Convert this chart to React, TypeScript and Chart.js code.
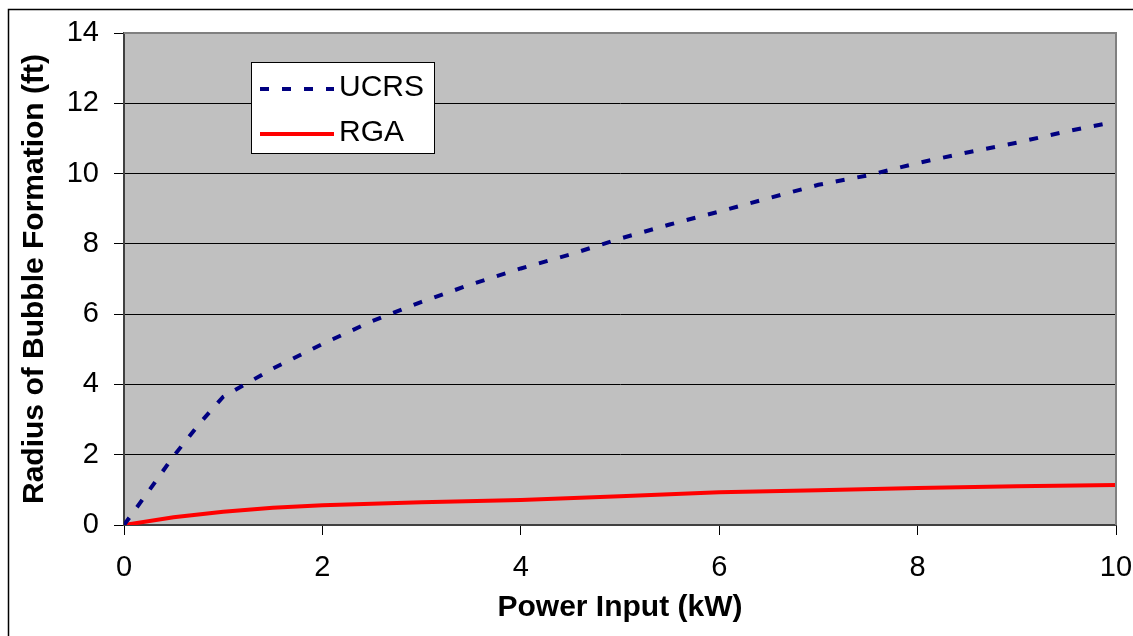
import { useEffect, useRef } from "react";
import { Chart, registerables } from "chart.js";

Chart.register(...registerables);

const FONT = "'Liberation Sans', Arial, Helvetica, sans-serif";

// UCRS series
const ucrsX = [0, 0.25, 0.5, 0.75, 1, 1.5, 2, 2.5, 3, 3.5, 4, 4.5, 5, 5.5, 6, 6.5, 7, 7.5, 8, 8.5, 9, 9.5, 10];
const ucrsY = [0, 0.97, 1.96, 2.85, 3.65, 4.45, 5.15, 5.8, 6.35, 6.85, 7.3, 7.7, 8.15, 8.55, 8.92, 9.3, 9.68, 9.95, 10.3, 10.6, 10.88, 11.2, 11.48];

// RGA series
const rgaX = [0, 0.5, 1, 1.5, 2, 3, 4, 5, 6, 7, 8, 9, 10];
const rgaY = [0, 0.22, 0.38, 0.49, 0.56, 0.65, 0.71, 0.82, 0.93, 0.99, 1.05, 1.1, 1.14];

// Tick labels
const xTicks = [0, 2, 4, 6, 8, 10];
const yTicks = [0, 2, 4, 6, 8, 10, 12, 14];

const seriesNames = ["UCRS", "RGA"];
const xTitle = "Power Input (kW)";
const yTitle = "Radius of Bubble Formation (ft)";

export default function App() {
  const ref = useRef<HTMLCanvasElement>(null);

  useEffect(() => {
    if (!ref.current) return;

    const bgPlugin = {
      id: "plotBg",
      beforeDraw(chart: any) {
        const { ctx, chartArea: a } = chart;
        ctx.save();
        ctx.fillStyle = "#fff";
        ctx.fillRect(0, 0, chart.width, chart.height);
        ctx.fillStyle = "#C0C0C0";
        ctx.fillRect(a.left, a.top, a.right - a.left, a.bottom - a.top);
        ctx.restore();
      },
    };

    const overlayPlugin = {
      id: "overlay",
      afterDraw(chart: any) {
        const { ctx, chartArea: a } = chart;
        ctx.save();
        // plot area top/right border (gray)
        ctx.strokeStyle = "#808080";
        ctx.lineWidth = 2;
        ctx.beginPath();
        ctx.moveTo(a.left, a.top);
        ctx.lineTo(a.right, a.top);
        ctx.lineTo(a.right, a.bottom);
        ctx.stroke();

        // outer frame
        ctx.strokeStyle = "#000";
        ctx.lineWidth = 1.5;
        ctx.beginPath();
        ctx.moveTo(8.5, chart.height);
        ctx.lineTo(8.5, 9.5);
        ctx.lineTo(chart.width, 9.5);
        ctx.stroke();

        // legend
        const lx = 251, ly = 62, lw = 183, lh = 91;
        ctx.fillStyle = "#fff";
        ctx.fillRect(lx, ly, lw, lh);
        ctx.strokeStyle = "#000";
        ctx.lineWidth = 1;
        ctx.strokeRect(lx + 0.5, ly + 0.5, lw, lh);

        const ds = chart.data.datasets;
        const rows = [89, 134];
        ds.forEach((d: any, i: number) => {
          const y = rows[i];
          ctx.strokeStyle = d.borderColor;
          ctx.lineWidth = d.borderWidth;
          ctx.setLineDash(d.borderDash || []);
          ctx.lineCap = "butt";
          ctx.beginPath();
          ctx.moveTo(260, y);
          ctx.lineTo(334, y);
          ctx.stroke();
          ctx.setLineDash([]);
          ctx.fillStyle = "#000";
          ctx.font = `30px ${FONT}`;
          ctx.textBaseline = "middle";
          ctx.textAlign = "left";
          ctx.fillText(d.label, 339, y - 1);
        });
        ctx.restore();
      },
    };

    const chart = new Chart(ref.current, {
      type: "line",
      data: {
        datasets: [
          {
            label: seriesNames[0],
            data: ucrsX.map((x, i) => ({ x, y: ucrsY[i] })),
            borderColor: "#000080",
            borderWidth: 4,
            borderDash: [9, 13],
            borderCapStyle: "butt",
            pointRadius: 0,
            tension: 0,
            fill: false,
          },
          {
            label: seriesNames[1],
            data: rgaX.map((x, i) => ({ x, y: rgaY[i] })),
            borderColor: "#FF0000",
            borderWidth: 4,
            pointRadius: 0,
            tension: 0,
            fill: false,
          },
        ],
      },
      options: {
        animation: false,
        responsive: false,
        devicePixelRatio: 1,
        layout: { autoPadding: false, padding: { top: 33, right: 17, bottom: 0, left: 0 } },
        plugins: { legend: { display: false }, tooltip: { enabled: false } },
        scales: {
          x: {
            type: "linear",
            min: 0,
            max: 10,
            afterBuildTicks: (s: any) => {
              s.ticks = xTicks.map((v) => ({ value: v }));
            },
            afterFit: (s: any) => {
              s.height = 111;
              s.paddingLeft = 0;
              s.paddingRight = 0;
            },
            ticks: { font: { family: FONT, size: 29 }, color: "#000", padding: 16, maxRotation: 0, autoSkip: false },
            grid: { drawOnChartArea: false, drawTicks: true, tickLength: 10, color: "#000", lineWidth: 1 },
            border: { display: true, color: "#404040", width: 2 },
            title: {
              display: true,
              text: xTitle,
              color: "#000",
              font: { family: FONT, size: 30, weight: "bold" },
              padding: { top: 0, bottom: 10 },
            },
          },
          y: {
            type: "linear",
            min: 0,
            max: 14,
            afterBuildTicks: (s: any) => {
              s.ticks = yTicks.map((v) => ({ value: v }));
            },
            afterFit: (s: any) => {
              s.width = 124;
            },
            ticks: { font: { family: FONT, size: 29 }, color: "#000", padding: 15, autoSkip: false },
            grid: { drawOnChartArea: true, drawTicks: true, tickLength: 10, color: "#000", lineWidth: 1 },
            border: { display: true, color: "#404040", width: 2 },
            title: {
              display: true,
              text: yTitle,
              color: "#000",
              font: { family: FONT, size: 30, weight: "bold" },
              padding: { top: 17, bottom: 0 },
            },
          },
        },
      },
      plugins: [bgPlugin, overlayPlugin],
    } as any);

    return () => chart.destroy();
  }, []);

  return (
    <div style={{ position: "fixed", left: 0, top: 0, width: 1133, height: 636, background: "#fff" }}>
      <canvas ref={ref} width={1133} height={636} style={{ display: "block", width: 1133, height: 636 }} />
    </div>
  );
}
